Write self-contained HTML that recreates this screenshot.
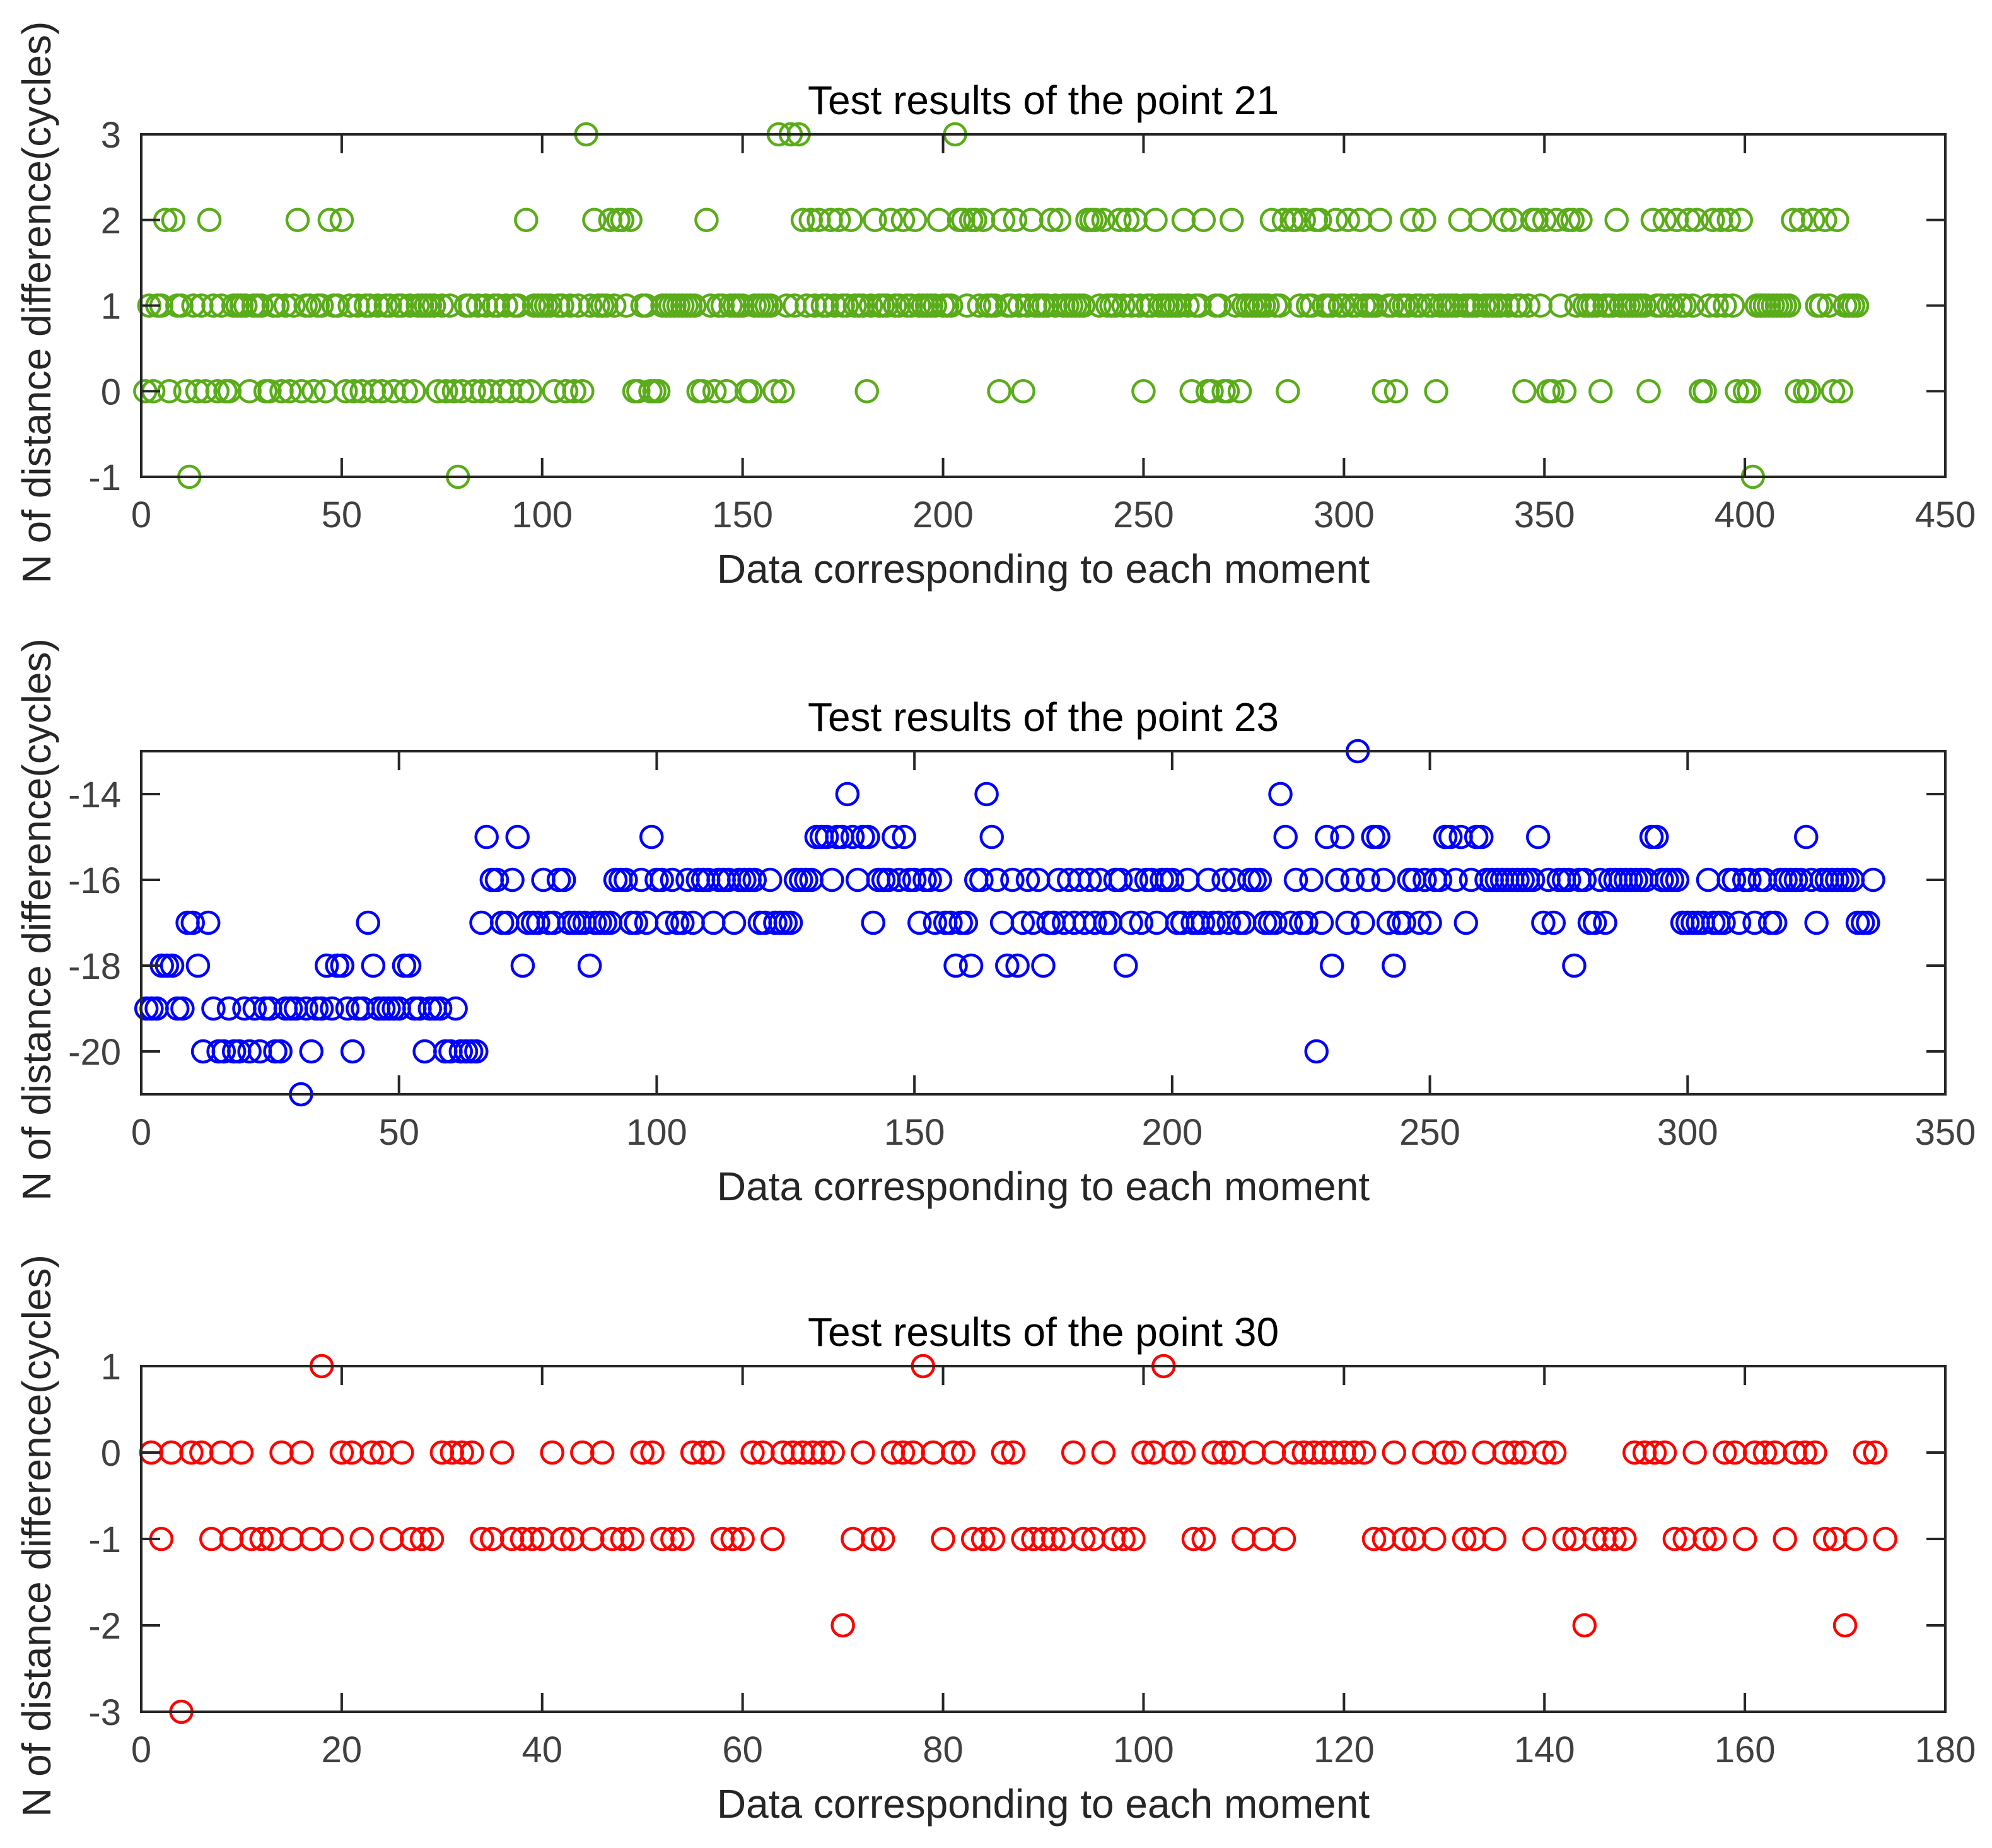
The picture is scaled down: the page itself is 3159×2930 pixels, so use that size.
<!DOCTYPE html>
<html><head><meta charset="utf-8"><style>
html,body{margin:0;padding:0;background:#fff;}
svg{display:block;font-family:"Liberation Sans",Arial,sans-serif;}
</style></head><body>
<svg id="fig" width="3159" height="2930" viewBox="0 0 3159 2930" xmlns="http://www.w3.org/2000/svg"></svg>
<script>
const categories1Count = 428;
const values21 = [0,1,0,1,1,2,0,2,1,1,0,-1,1,0,1,0,2,1,0,1,
0,0,1,1,1,1,0,1,1,1,0,0,1,1,0,1,0,1,2,0,
1,1,0,1,1,0,2,1,1,2,0,1,0,1,0,1,1,0,1,0,
1,1,0,1,1,0,1,0,1,1,1,1,1,0,1,0,1,0,-1,0,
1,1,0,1,0,1,0,1,1,0,1,0,1,1,0,2,0,1,1,1,
1,1,0,1,1,0,1,0,1,0,3,1,2,1,1,1,2,1,2,2,
1,2,0,0,1,1,0,0,0,1,1,1,1,1,1,1,1,1,0,0,
2,1,0,1,1,0,1,1,1,1,0,0,1,1,1,1,1,0,3,0,
1,3,1,3,2,1,2,1,2,1,1,2,1,2,1,1,2,1,1,1,
0,1,2,1,1,1,2,1,1,2,1,1,2,1,1,1,1,1,2,1,
1,1,3,2,2,1,2,2,1,2,1,1,1,0,2,1,1,2,1,0,
1,2,1,1,1,1,2,1,2,1,1,1,1,1,1,2,2,2,1,2,
1,1,1,2,1,2,1,2,1,0,1,1,2,1,1,1,1,1,1,2,
1,0,1,1,2,0,0,1,1,0,0,2,1,0,1,1,1,1,1,1,
1,2,1,1,2,0,2,2,1,2,1,1,2,2,1,1,1,2,1,1,
2,1,1,2,1,1,1,1,2,0,1,1,0,1,1,1,2,1,1,2,
1,1,0,1,1,1,1,1,2,1,1,1,1,2,1,1,1,1,1,2,
1,2,1,1,0,1,2,2,1,2,0,0,2,1,0,2,2,1,2,1,
1,1,1,0,1,1,1,2,1,1,1,1,1,1,1,0,2,1,1,2,
1,1,2,1,1,2,1,2,0,0,1,2,1,2,1,2,1,0,2,0,
0,-1,1,1,1,1,1,1,1,1,1,2,0,2,0,0,2,1,1,2,
1,0,2,0,1,1,1,1];
const values23 = [-19,-19,-19,-18,-18,-18,-19,-19,-17,-17,-18,-20,-17,-19,-20,-20,-19,-20,-20,-19,
-20,-19,-20,-19,-19,-20,-20,-19,-19,-19,-21,-19,-20,-19,-19,-18,-19,-18,-18,-19,
-20,-19,-19,-17,-18,-19,-19,-19,-19,-19,-18,-18,-19,-19,-20,-19,-19,-19,-20,-20,
-19,-20,-20,-20,-20,-17,-15,-16,-16,-17,-17,-16,-15,-18,-17,-17,-17,-16,-17,-17,
-16,-16,-17,-17,-17,-17,-18,-17,-17,-17,-17,-16,-16,-16,-17,-17,-16,-17,-15,-16,
-16,-17,-16,-17,-17,-16,-17,-16,-16,-16,-17,-16,-16,-16,-17,-16,-16,-16,-16,-17,
-17,-16,-17,-17,-17,-17,-16,-16,-16,-16,-15,-15,-15,-16,-15,-15,-14,-15,-16,-15,
-15,-17,-16,-16,-16,-15,-16,-15,-16,-16,-17,-16,-16,-17,-16,-17,-17,-18,-17,-17,
-18,-16,-16,-14,-15,-16,-17,-18,-16,-18,-17,-16,-17,-16,-18,-17,-17,-16,-17,-16,
-17,-16,-17,-16,-17,-16,-17,-17,-16,-16,-18,-17,-16,-17,-16,-16,-17,-16,-16,-16,
-17,-17,-16,-17,-17,-17,-16,-17,-17,-16,-17,-16,-17,-17,-16,-16,-16,-17,-17,-17,
-14,-15,-17,-16,-17,-17,-16,-20,-17,-15,-18,-16,-15,-17,-16,-13,-17,-16,-15,-15,
-16,-17,-18,-17,-17,-16,-16,-17,-16,-17,-16,-16,-15,-15,-16,-15,-17,-16,-15,-15,
-16,-16,-16,-16,-16,-16,-16,-16,-16,-16,-15,-17,-16,-17,-16,-16,-16,-18,-16,-16,
-17,-17,-16,-17,-16,-16,-16,-16,-16,-16,-16,-16,-15,-15,-16,-16,-16,-16,-17,-17,
-17,-17,-17,-16,-17,-17,-17,-16,-16,-17,-16,-16,-17,-16,-16,-17,-17,-16,-16,-16,
-16,-16,-15,-16,-17,-16,-16,-16,-16,-16,-16,-16,-17,-17,-17,-16];
const values30 = [0,-1,0,-3,0,0,-1,0,-1,0,-1,-1,-1,0,-1,0,-1,1,-1,0,0,-1,0,0,-1,0,-1,-1,-1,0,
0,0,0,-1,-1,0,-1,-1,-1,-1,0,-1,-1,0,-1,0,-1,-1,-1,0,0,-1,-1,-1,0,0,0,-1,-1,-1,
0,0,-1,0,0,0,0,0,0,-2,-1,0,-1,-1,0,0,0,1,0,-1,0,0,-1,-1,-1,0,0,-1,-1,-1,
-1,-1,0,-1,-1,0,-1,-1,-1,0,0,1,0,0,-1,-1,0,0,0,-1,0,-1,0,-1,0,0,0,0,0,0,
0,0,-1,-1,0,-1,-1,0,-1,0,0,-1,-1,0,-1,0,0,0,-1,0,0,-1,-1,-2,-1,-1,-1,-1,0,0,
0,0,-1,-1,0,-1,-1,0,0,-1,0,0,0,-1,0,0,0,-1,-1,-2,-1,0,0,-1];
const titles = ["Test results of the point 21","Test results of the point 23","Test results of the point 30"];
const xTicks1 = [0,50,100,150,200,250,300,350,400,450];
const yTicks1 = [-1,0,1,2,3];
const xTicks2 = [0,50,100,150,200,250,300,350];
const yTicks2 = [-20,-18,-16,-14];
const xTicks3 = [0,20,40,60,80,100,120,140,160,180];
const yTicks3 = [-3,-2,-1,0,1];

const NS = "http://www.w3.org/2000/svg";
const svg = document.getElementById('fig');
function mk(tag, attrs, parent){
  const e = document.createElementNS(NS, tag);
  for (const k in attrs) e.setAttribute(k, attrs[k]);
  (parent||svg).appendChild(e);
  return e;
}
const L = 224, R = 3085;
function panel(idx, top, bottom, xmax, ymin, ymax, xt, yt, vals, color, title){
  const g = mk('g', {});
  
  
  const sx = v => L + (v/xmax)*(R-L);
  const sy = v => bottom - (v-ymin)/(ymax-ymin)*(bottom-top);
  const bg = mk('rect', {x:L, y:top, width:R-L, height:bottom-top, fill:'#fff'}, g);
  
  
  const mg = mk('g', {fill:'none', stroke:color, 'stroke-width':4.5}, g);
  
  
  vals.forEach((v,i) => {
    const c = mk('circle', {cx:sx(i+1), cy:sy(v), r:17}, mg);
    
    
  });
  const box = mk('rect', {x:L, y:top, width:R-L, height:bottom-top, fill:'none', stroke:'#262626', 'stroke-width':4}, g);
  
  
  const tl = 30;
  xt.forEach(t => {
    const x = sx(t);
    mk('line', {x1:x, y1:bottom, x2:x, y2:bottom-tl, stroke:'#262626','stroke-width':4}, g);
    mk('line', {x1:x, y1:top, x2:x, y2:top+tl, stroke:'#262626','stroke-width':4}, g);
    const tx = mk('text', {x:x, y:bottom+80, 'text-anchor':'middle', 'font-size':58, fill:'#404040'}, g);
    tx.textContent = t;
    
    
  });
  yt.forEach(t => {
    const y = sy(t);
    mk('line', {x1:L, y1:y, x2:L+tl, y2:y, stroke:'#262626','stroke-width':4}, g);
    mk('line', {x1:R, y1:y, x2:R-tl, y2:y, stroke:'#262626','stroke-width':4}, g);
    const tx = mk('text', {x:L-32, y:y+21, 'text-anchor':'end', 'font-size':58, fill:'#404040'}, g);
    tx.textContent = t;
    
    
  });
  const tt = mk('text', {x:(L+R)/2, y:top-32, 'text-anchor':'middle', 'font-size':64, fill:'#000'}, g);
  tt.textContent = title;
  
  
  const xl = mk('text', {x:(L+R)/2, y:bottom+168, 'text-anchor':'middle', 'font-size':64, fill:'#262626'}, g);
  xl.textContent = 'Data corresponding to each moment';
  
  
  const cy = (top+bottom)/2 - 5;
  const yl = mk('text', {x:0, y:0, transform:'translate(80,'+cy+') rotate(-90)', 'text-anchor':'middle', 'font-size':64, fill:'#262626'}, g);
  yl.textContent = 'N of distance difference(cycles)';
  
  
}
panel(0, 213, 756, 450, -1, 3, xTicks1, yTicks1, values21, '#5aac1a', titles[0]);
panel(1, 1191, 1735, 350, -21, -13, xTicks2, yTicks2, values23, '#0000ff', titles[1]);
panel(2, 2166, 2714, 180, -3, 1, xTicks3, yTicks3, values30, '#ff0000', titles[2]);
</script>
</body></html>
